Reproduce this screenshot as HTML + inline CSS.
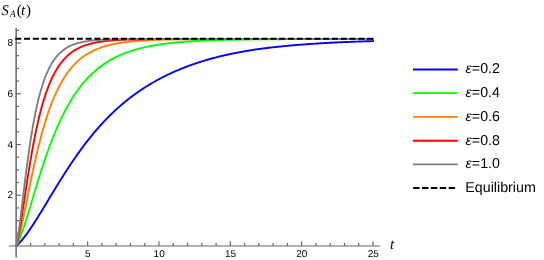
<!DOCTYPE html>
<html><head><meta charset="utf-8"><title>S_A(t)</title>
<style>
html,body{margin:0;padding:0;background:#fff;}
body{width:544px;height:260px;overflow:hidden;position:relative;font-family:"Liberation Sans",sans-serif;}
</style></head><body>
<svg width="544" height="260" viewBox="0 0 544 260" style="position:absolute;left:0;top:0;will-change:transform" text-rendering="geometricPrecision">
<rect width="544" height="260" fill="#ffffff"/>
<g stroke="#666666" stroke-width="1.2" fill="none">
<line x1="8.8" y1="246.0" x2="380.4" y2="246.0"/>
<line x1="16.15" y1="28" x2="16.15" y2="257.5" stroke-width="1.5"/>
<line x1="30.57" y1="246.0" x2="30.57" y2="243.0"/>
<line x1="44.84" y1="246.0" x2="44.84" y2="243.0"/>
<line x1="59.10" y1="246.0" x2="59.10" y2="243.0"/>
<line x1="73.37" y1="246.0" x2="73.37" y2="243.0"/>
<line x1="87.64" y1="246.0" x2="87.64" y2="241.3"/>
<line x1="101.91" y1="246.0" x2="101.91" y2="243.0"/>
<line x1="116.18" y1="246.0" x2="116.18" y2="243.0"/>
<line x1="130.44" y1="246.0" x2="130.44" y2="243.0"/>
<line x1="144.71" y1="246.0" x2="144.71" y2="243.0"/>
<line x1="158.98" y1="246.0" x2="158.98" y2="241.3"/>
<line x1="173.25" y1="246.0" x2="173.25" y2="243.0"/>
<line x1="187.52" y1="246.0" x2="187.52" y2="243.0"/>
<line x1="201.78" y1="246.0" x2="201.78" y2="243.0"/>
<line x1="216.05" y1="246.0" x2="216.05" y2="243.0"/>
<line x1="230.32" y1="246.0" x2="230.32" y2="241.3"/>
<line x1="244.59" y1="246.0" x2="244.59" y2="243.0"/>
<line x1="258.86" y1="246.0" x2="258.86" y2="243.0"/>
<line x1="273.12" y1="246.0" x2="273.12" y2="243.0"/>
<line x1="287.39" y1="246.0" x2="287.39" y2="243.0"/>
<line x1="301.66" y1="246.0" x2="301.66" y2="241.3"/>
<line x1="315.93" y1="246.0" x2="315.93" y2="243.0"/>
<line x1="330.20" y1="246.0" x2="330.20" y2="243.0"/>
<line x1="344.46" y1="246.0" x2="344.46" y2="243.0"/>
<line x1="358.73" y1="246.0" x2="358.73" y2="243.0"/>
<line x1="373.00" y1="246.0" x2="373.00" y2="241.3"/>
<line x1="16.3" y1="233.31" x2="19.1" y2="233.31"/>
<line x1="16.3" y1="220.63" x2="19.1" y2="220.63"/>
<line x1="16.3" y1="207.94" x2="19.1" y2="207.94"/>
<line x1="16.3" y1="195.26" x2="20.9" y2="195.26"/>
<line x1="16.3" y1="182.57" x2="19.1" y2="182.57"/>
<line x1="16.3" y1="169.89" x2="19.1" y2="169.89"/>
<line x1="16.3" y1="157.20" x2="19.1" y2="157.20"/>
<line x1="16.3" y1="144.52" x2="20.9" y2="144.52"/>
<line x1="16.3" y1="131.83" x2="19.1" y2="131.83"/>
<line x1="16.3" y1="119.15" x2="19.1" y2="119.15"/>
<line x1="16.3" y1="106.47" x2="19.1" y2="106.47"/>
<line x1="16.3" y1="93.78" x2="20.9" y2="93.78"/>
<line x1="16.3" y1="81.09" x2="19.1" y2="81.09"/>
<line x1="16.3" y1="68.41" x2="19.1" y2="68.41"/>
<line x1="16.3" y1="55.72" x2="19.1" y2="55.72"/>
<line x1="16.3" y1="43.04" x2="20.9" y2="43.04"/>
<line x1="16.3" y1="30.35" x2="19.1" y2="30.35"/>
</g>
<path d="M16.30 246.01 L17.20 245.17 L17.50 244.88 L18.09 244.29 L18.69 243.68 L18.99 243.37 L19.89 242.40 L19.89 242.40 L20.78 241.40 L21.09 241.05 L21.68 240.36 L22.28 239.64 L22.58 239.29 L23.47 238.18 L23.48 238.17 L24.37 237.04 L24.67 236.64 L25.26 235.87 L25.87 235.07 L26.16 234.68 L27.06 233.45 L27.07 233.44 L27.95 232.20 L28.26 231.77 L28.85 230.93 L29.46 230.06 L29.75 229.64 L30.64 228.33 L30.66 228.31 L31.54 226.99 L31.85 226.53 L32.44 225.64 L33.05 224.71 L33.33 224.28 L34.23 222.89 L34.24 222.87 L35.13 221.50 L35.44 221.00 L36.02 220.09 L36.64 219.11 L36.92 218.67 L37.82 217.23 L37.83 217.21 L38.71 215.79 L39.03 215.28 L39.61 214.34 L40.23 213.34 L40.51 212.88 L41.40 211.42 L41.42 211.39 L42.30 209.95 L42.62 209.42 L43.19 208.47 L43.82 207.45 L44.09 206.99 L44.99 205.51 L45.01 205.47 L45.88 204.03 L46.21 203.49 L46.78 202.54 L47.40 201.51 L47.68 201.05 L48.57 199.56 L48.60 199.52 L49.47 198.08 L49.80 197.53 L50.37 196.59 L50.99 195.55 L51.26 195.10 L52.16 193.62 L52.19 193.57 L53.06 192.14 L53.39 191.60 L53.95 190.66 L54.58 189.63 L54.85 189.19 L55.75 187.72 L55.78 187.67 L56.64 186.26 L56.97 185.72 L57.54 184.80 L58.17 183.77 L58.43 183.34 L59.33 181.90 L59.37 181.84 L60.23 180.46 L60.56 179.92 L61.12 179.02 L61.76 178.01 L62.02 177.59 L62.92 176.17 L62.96 176.11 L63.81 174.76 L64.15 174.23 L64.71 173.35 L65.35 172.36 L65.61 171.96 L66.50 170.57 L66.55 170.50 L67.40 169.19 L67.74 168.66 L68.30 167.81 L68.94 166.84 L69.19 166.45 L70.09 165.10 L70.13 165.03 L70.99 163.76 L71.33 163.24 L71.88 162.42 L72.53 161.47 L72.78 161.10 L73.68 159.78 L73.72 159.71 L74.57 158.48 L74.92 157.97 L75.47 157.18 L76.12 156.25 L76.36 155.90 L77.26 154.62 L77.31 154.55 L78.16 153.36 L78.51 152.87 L79.05 152.11 L79.70 151.20 L79.95 150.86 L80.85 149.63 L80.90 149.56 L81.74 148.41 L82.10 147.93 L82.64 147.20 L83.29 146.32 L83.54 146.00 L84.43 144.81 L84.49 144.74 L85.33 143.63 L85.69 143.17 L86.23 142.46 L86.88 141.62 L87.12 141.31 L88.02 140.16 L88.08 140.09 L88.92 139.03 L89.28 138.57 L89.81 137.90 L90.47 137.08 L90.71 136.79 L91.61 135.69 L91.67 135.61 L92.50 134.60 L92.86 134.16 L93.40 133.51 L94.06 132.72 L94.29 132.44 L95.19 131.38 L95.26 131.31 L96.09 130.34 L96.45 129.91 L96.98 129.30 L97.65 128.53 L97.88 128.27 L98.78 127.25 L98.85 127.18 L99.67 126.25 L100.04 125.84 L100.57 125.25 L101.24 124.51 L101.47 124.27 L102.36 123.29 L102.43 123.21 L103.26 122.32 L103.63 121.93 L104.16 121.37 L104.83 120.66 L105.05 120.43 L105.95 119.49 L106.02 119.41 L106.85 118.57 L107.22 118.18 L107.74 117.65 L108.42 116.97 L108.64 116.75 L109.53 115.85 L109.61 115.77 L110.43 114.97 L110.81 114.60 L111.33 114.09 L112.01 113.44 L112.22 113.23 L113.12 112.37 L113.20 112.29 L114.02 111.52 L114.40 111.16 L114.91 110.68 L115.59 110.05 L115.81 109.86 L116.71 109.04 L116.79 108.96 L117.60 108.23 L117.99 107.88 L118.50 107.42 L119.18 106.82 L119.40 106.63 L120.29 105.85 L120.38 105.77 L121.19 105.07 L121.58 104.74 L122.09 104.31 L122.77 103.73 L122.98 103.55 L123.88 102.80 L123.97 102.72 L124.78 102.06 L125.16 101.74 L125.67 101.33 L126.36 100.77 L126.57 100.60 L127.46 99.89 L127.56 99.81 L128.36 99.18 L128.75 98.87 L129.26 98.48 L129.95 97.94 L130.15 97.78 L131.05 97.10 L131.15 97.03 L131.95 96.42 L132.34 96.13 L132.84 95.75 L133.54 95.24 L133.74 95.09 L134.64 94.44 L134.74 94.36 L135.53 93.79 L135.93 93.50 L136.43 93.15 L137.13 92.65 L137.33 92.52 L138.22 91.89 L138.32 91.82 L139.12 91.27 L139.52 91.00 L140.02 90.66 L140.72 90.18 L140.91 90.05 L141.81 89.46 L141.91 89.39 L142.70 88.86 L143.11 88.60 L143.60 88.28 L144.31 87.82 L144.50 87.70 L145.39 87.13 L145.50 87.06 L146.29 86.56 L146.70 86.31 L147.19 86.00 L147.89 85.57 L148.08 85.45 L148.98 84.90 L149.09 84.84 L149.88 84.36 L150.29 84.12 L150.77 83.83 L151.48 83.41 L151.67 83.30 L152.57 82.78 L152.68 82.71 L153.46 82.26 L153.88 82.02 L154.36 81.75 L155.07 81.34 L155.26 81.24 L156.15 80.74 L156.27 80.68 L157.05 80.25 L157.47 80.02 L157.95 79.76 L158.66 79.37 L158.84 79.27 L159.74 78.79 L159.86 78.73 L160.63 78.32 L161.05 78.10 L161.53 77.85 L162.25 77.48 L162.43 77.39 L163.32 76.93 L163.45 76.87 L164.22 76.48 L164.64 76.27 L165.12 76.03 L165.84 75.67 L166.01 75.59 L166.91 75.15 L167.04 75.09 L167.81 74.72 L168.23 74.51 L168.70 74.29 L169.43 73.95 L169.60 73.86 L170.50 73.45 L170.62 73.39 L171.39 73.03 L171.82 72.84 L172.29 72.62 L173.02 72.29 L173.19 72.22 L174.08 71.82 L174.21 71.76 L174.98 71.42 L175.41 71.23 L175.87 71.03 L176.61 70.71 L176.77 70.64 L177.67 70.26 L177.80 70.20 L178.56 69.88 L179.00 69.70 L179.46 69.50 L180.20 69.20 L180.36 69.13 L181.25 68.77 L181.39 68.71 L182.15 68.40 L182.59 68.23 L183.05 68.05 L183.78 67.76 L183.94 67.69 L184.84 67.34 L184.98 67.29 L185.74 67.00 L186.18 66.83 L186.63 66.65 L187.37 66.37 L187.53 66.32 L188.43 65.98 L188.57 65.93 L189.32 65.65 L189.77 65.49 L190.22 65.32 L190.96 65.05 L191.12 65.00 L192.01 64.68 L192.16 64.63 L192.91 64.36 L193.35 64.21 L193.80 64.05 L194.55 63.79 L194.70 63.74 L195.60 63.44 L195.75 63.39 L196.49 63.14 L196.94 62.99 L197.39 62.84 L198.14 62.59 L198.29 62.54 L199.18 62.25 L199.34 62.20 L200.08 61.97 L200.53 61.82 L200.98 61.68 L201.73 61.44 L201.87 61.40 L202.77 61.12 L202.93 61.07 L203.67 60.85 L204.12 60.71 L204.56 60.58 L205.32 60.35 L205.46 60.31 L206.36 60.04 L206.51 60.00 L207.25 59.78 L207.71 59.65 L208.15 59.52 L208.91 59.31 L209.04 59.27 L209.94 59.01 L210.10 58.97 L210.84 58.77 L211.30 58.64 L211.73 58.52 L212.50 58.31 L212.63 58.28 L213.53 58.03 L213.69 57.99 L214.42 57.80 L214.89 57.68 L215.32 57.56 L216.08 57.36 L216.22 57.33 L217.11 57.10 L217.28 57.06 L218.01 56.88 L218.48 56.76 L218.91 56.65 L219.67 56.46 L219.80 56.43 L220.70 56.21 L220.87 56.17 L221.60 56.00 L222.07 55.89 L222.49 55.79 L223.26 55.60 L223.39 55.58 L224.29 55.37 L224.46 55.33 L225.18 55.16 L225.66 55.06 L226.08 54.96 L226.85 54.79 L226.97 54.76 L227.87 54.56 L228.05 54.53 L228.77 54.37 L229.24 54.27 L229.66 54.18 L230.44 54.01 L230.56 53.99 L231.46 53.80 L231.64 53.76 L232.35 53.61 L232.83 53.52 L233.25 53.43 L234.03 53.27 L234.15 53.25 L235.04 53.07 L235.23 53.04 L235.94 52.90 L236.42 52.80 L236.84 52.72 L237.62 52.57 L237.73 52.55 L238.63 52.38 L238.81 52.35 L239.53 52.22 L240.01 52.13 L240.42 52.05 L241.21 51.91 L241.32 51.89 L242.22 51.73 L242.40 51.69 L243.11 51.57 L243.60 51.48 L244.01 51.41 L244.80 51.27 L244.90 51.26 L245.80 51.10 L245.99 51.07 L246.70 50.95 L247.19 50.87 L247.59 50.80 L248.39 50.67 L248.49 50.66 L249.39 50.51 L249.58 50.48 L250.28 50.37 L250.78 50.29 L251.18 50.23 L251.97 50.10 L252.08 50.09 L252.97 49.95 L253.17 49.92 L253.87 49.81 L254.37 49.74 L254.77 49.68 L255.56 49.56 L255.66 49.55 L256.56 49.41 L256.76 49.39 L257.46 49.29 L257.96 49.21 L258.35 49.16 L259.15 49.04 L259.25 49.03 L260.14 48.91 L260.35 48.88 L261.04 48.78 L261.54 48.72 L261.94 48.66 L262.74 48.56 L262.83 48.54 L263.73 48.42 L263.94 48.40 L264.63 48.31 L265.13 48.24 L265.52 48.19 L266.33 48.09 L266.42 48.08 L267.32 47.97 L267.53 47.94 L268.21 47.86 L268.72 47.79 L269.11 47.75 L269.92 47.65 L270.01 47.64 L270.90 47.53 L271.12 47.51 L271.80 47.43 L272.31 47.37 L272.70 47.32 L273.51 47.23 L273.59 47.22 L274.49 47.12 L274.70 47.09 L275.39 47.02 L275.90 46.96 L276.28 46.92 L277.10 46.83 L277.18 46.82 L278.07 46.72 L278.29 46.70 L278.97 46.63 L279.49 46.58 L279.87 46.54 L280.69 46.45 L280.76 46.44 L281.66 46.35 L281.88 46.33 L282.56 46.26 L283.08 46.21 L283.45 46.17 L284.27 46.09 L284.35 46.08 L285.25 46.00 L285.47 45.97 L286.14 45.91 L286.67 45.86 L287.04 45.83 L287.86 45.75 L287.94 45.74 L288.83 45.66 L289.06 45.64 L289.73 45.58 L290.26 45.53 L290.63 45.50 L291.45 45.42 L291.52 45.42 L292.42 45.34 L292.65 45.32 L293.31 45.26 L293.85 45.21 L294.21 45.18 L295.04 45.11 L295.11 45.11 L296.00 45.03 L296.24 45.01 L296.90 44.96 L297.43 44.91 L297.80 44.88 L298.63 44.82 L298.69 44.81 L299.59 44.74 L299.83 44.72 L300.49 44.67 L301.02 44.63 L301.38 44.60 L302.22 44.54 L302.28 44.53 L303.18 44.46 L303.42 44.45 L304.07 44.40 L304.61 44.36 L304.97 44.33 L305.81 44.27 L305.87 44.27 L306.76 44.20 L307.01 44.18 L307.66 44.14 L308.20 44.10 L308.56 44.07 L309.40 44.02 L309.45 44.01 L310.35 43.95 L310.59 43.93 L311.24 43.89 L311.79 43.85 L312.14 43.83 L312.99 43.77 L313.04 43.77 L313.93 43.71 L314.18 43.70 L314.83 43.66 L315.38 43.62 L315.73 43.60 L316.58 43.54 L316.62 43.54 L317.52 43.49 L317.77 43.47 L318.42 43.43 L318.97 43.40 L319.31 43.38 L320.16 43.33 L320.21 43.32 L321.11 43.27 L321.36 43.26 L322.00 43.22 L322.56 43.19 L322.90 43.17 L323.75 43.12 L323.80 43.12 L324.69 43.07 L324.95 43.05 L325.59 43.02 L326.15 42.98 L326.48 42.97 L327.34 42.92 L327.38 42.92 L328.28 42.87 L328.54 42.86 L329.17 42.82 L329.74 42.79 L330.07 42.78 L330.93 42.73 L330.97 42.73 L331.86 42.68 L332.13 42.67 L332.76 42.64 L333.32 42.61 L333.66 42.59 L334.52 42.55 L334.55 42.55 L335.45 42.51 L335.72 42.49 L336.35 42.46 L336.91 42.44 L337.24 42.42 L338.11 42.38 L338.14 42.38 L339.04 42.34 L339.31 42.33 L339.93 42.30 L340.50 42.27 L340.83 42.26 L341.70 42.22 L341.73 42.22 L342.62 42.18 L342.89 42.16 L343.52 42.14 L344.09 42.11 L344.41 42.10 L345.29 42.06 L345.31 42.06 L346.21 42.02 L346.48 42.01 L347.10 41.99 L347.68 41.96 L348.00 41.95 L348.88 41.91 L348.90 41.91 L349.79 41.88 L350.07 41.87 L350.69 41.84 L351.27 41.82 L351.59 41.81 L352.47 41.77 L352.48 41.77 L353.38 41.74 L353.66 41.73 L354.28 41.71 L354.86 41.68 L355.17 41.67 L356.05 41.64 L356.07 41.64 L356.97 41.61 L357.25 41.60 L357.86 41.58 L358.45 41.55 L358.76 41.54 L359.64 41.51 L359.65 41.51 L360.55 41.48 L360.84 41.47 L361.45 41.45 L362.04 41.43 L362.34 41.42 L363.23 41.39 L363.24 41.39 L364.14 41.36 L364.43 41.35 L365.03 41.33 L365.62 41.31 L365.93 41.30 L366.82 41.28 L366.83 41.28 L367.72 41.25 L368.02 41.24 L368.62 41.22 L369.21 41.20 L369.52 41.19 L370.41 41.17 L370.41 41.17 L371.31 41.14 L371.61 41.13 L372.21 41.11 L372.80 41.10 L373.10 41.09 L374.00 41.06" fill="none" stroke="#0000ff" stroke-width="1.9" stroke-linejoin="round"/>
<path d="M16.30 246.00 L17.02 244.64 L17.20 244.28 L17.73 243.17 L18.09 242.39 L18.45 241.60 L18.99 240.34 L19.16 239.93 L19.88 238.18 L19.89 238.16 L20.59 236.34 L20.78 235.85 L21.31 234.44 L21.68 233.43 L22.03 232.46 L22.58 230.91 L22.74 230.43 L23.46 228.34 L23.47 228.30 L24.17 226.20 L24.37 225.61 L24.89 224.02 L25.26 222.86 L25.61 221.80 L26.16 220.05 L26.32 219.54 L27.04 217.26 L27.06 217.19 L27.75 214.95 L27.95 214.29 L28.47 212.62 L28.85 211.37 L29.18 210.27 L29.75 208.42 L29.90 207.91 L30.62 205.54 L30.64 205.45 L31.33 203.17 L31.54 202.47 L32.05 200.79 L32.44 199.49 L32.76 198.40 L33.33 196.51 L33.48 196.02 L34.19 193.65 L34.23 193.53 L34.91 191.28 L35.13 190.57 L35.63 188.92 L36.02 187.62 L36.34 186.57 L36.92 184.68 L37.06 184.23 L37.77 181.91 L37.82 181.77 L38.49 179.60 L38.71 178.88 L39.21 177.31 L39.61 176.02 L39.92 175.04 L40.51 173.19 L40.64 172.78 L41.35 170.55 L41.40 170.40 L42.07 168.34 L42.30 167.63 L42.78 166.15 L43.19 164.90 L43.50 163.98 L44.09 162.21 L44.22 161.84 L44.93 159.72 L44.99 159.55 L45.65 157.63 L45.88 156.94 L46.36 155.56 L46.78 154.36 L47.08 153.52 L47.68 151.83 L47.79 151.50 L48.51 149.51 L48.57 149.34 L49.23 147.55 L49.47 146.89 L49.94 145.61 L50.37 144.48 L50.66 143.71 L51.26 142.11 L51.37 141.82 L52.09 139.97 L52.16 139.79 L52.81 138.14 L53.06 137.51 L53.52 136.34 L53.95 135.27 L54.24 134.57 L54.85 133.08 L54.95 132.83 L55.67 131.11 L55.75 130.93 L56.38 129.42 L56.64 128.82 L57.10 127.75 L57.54 126.75 L57.82 126.12 L58.43 124.72 L58.53 124.51 L59.25 122.92 L59.33 122.74 L59.96 121.36 L60.23 120.79 L60.68 119.83 L61.12 118.89 L61.39 118.33 L62.02 117.03 L62.11 116.84 L62.83 115.39 L62.92 115.20 L63.54 113.96 L63.81 113.42 L64.26 112.55 L64.71 111.67 L64.97 111.17 L65.61 109.97 L65.69 109.81 L66.41 108.48 L66.50 108.29 L67.12 107.17 L67.40 106.66 L67.84 105.88 L68.30 105.06 L68.55 104.61 L69.19 103.50 L69.27 103.37 L69.98 102.15 L70.09 101.97 L70.70 100.95 L70.99 100.48 L71.42 99.78 L71.88 99.02 L72.13 98.62 L72.78 97.59 L72.85 97.49 L73.56 96.37 L73.68 96.20 L74.28 95.28 L74.57 94.84 L74.99 94.20 L75.47 93.50 L75.71 93.15 L76.36 92.20 L76.43 92.12 L77.14 91.10 L77.26 90.93 L77.86 90.10 L78.16 89.69 L78.57 89.13 L79.05 88.48 L79.29 88.17 L79.95 87.30 L80.00 87.22 L80.72 86.30 L80.85 86.14 L81.44 85.39 L81.74 85.01 L82.15 84.50 L82.64 83.91 L82.87 83.63 L83.54 82.83 L83.58 82.77 L84.30 81.93 L84.43 81.78 L85.02 81.10 L85.33 80.75 L85.73 80.30 L86.23 79.74 L86.45 79.50 L87.12 78.76 L87.16 78.72 L87.88 77.96 L88.02 77.81 L88.59 77.21 L88.92 76.87 L89.31 76.47 L89.81 75.96 L90.03 75.75 L90.71 75.07 L90.74 75.04 L91.46 74.34 L91.61 74.20 L92.17 73.66 L92.50 73.35 L92.89 72.99 L93.40 72.53 L93.60 72.34 L94.29 71.72 L94.32 71.69 L95.04 71.06 L95.19 70.93 L95.75 70.44 L96.09 70.16 L96.47 69.84 L96.98 69.41 L97.18 69.24 L97.88 68.67 L97.90 68.66 L98.62 68.08 L98.78 67.96 L99.33 67.52 L99.67 67.26 L100.05 66.97 L100.57 66.57 L100.76 66.43 L101.47 65.91 L101.48 65.90 L102.19 65.38 L102.36 65.26 L102.91 64.87 L103.26 64.62 L103.63 64.37 L104.16 64.00 L104.34 63.88 L105.05 63.40 L105.06 63.40 L105.77 62.92 L105.95 62.81 L106.49 62.46 L106.85 62.23 L107.20 62.01 L107.74 61.67 L107.92 61.56 L108.64 61.12 L108.64 61.12 L109.35 60.70 L109.53 60.59 L110.07 60.28 L110.43 60.07 L110.78 59.86 L111.33 59.56 L111.50 59.46 L112.22 59.06 L112.22 59.06 L112.93 58.68 L113.12 58.57 L113.65 58.29 L114.02 58.10 L114.36 57.92 L114.91 57.64 L115.08 57.55 L115.79 57.19 L115.81 57.19 L116.51 56.84 L116.71 56.75 L117.23 56.50 L117.60 56.32 L117.94 56.16 L118.50 55.90 L118.66 55.82 L119.37 55.50 L119.40 55.49 L120.09 55.18 L120.29 55.09 L120.80 54.86 L121.19 54.70 L121.52 54.56 L122.09 54.32 L122.24 54.26 L122.95 53.96 L122.98 53.95 L123.67 53.67 L123.88 53.59 L124.38 53.38 L124.78 53.23 L125.10 53.11 L125.67 52.89 L125.82 52.83 L126.53 52.56 L126.57 52.55 L127.25 52.30 L127.46 52.22 L127.96 52.04 L128.36 51.90 L128.68 51.79 L129.26 51.59 L129.39 51.54 L130.11 51.30 L130.15 51.28 L130.83 51.06 L131.05 50.99 L131.54 50.83 L131.95 50.70 L132.26 50.60 L132.84 50.41 L132.97 50.37 L133.69 50.15 L133.74 50.14 L134.40 49.93 L134.64 49.87 L135.12 49.72 L135.53 49.60 L135.84 49.51 L136.43 49.34 L136.55 49.31 L137.27 49.11 L137.33 49.09 L137.98 48.91 L138.22 48.85 L138.70 48.72 L139.12 48.61 L139.42 48.53 L140.02 48.38 L140.13 48.35 L140.85 48.17 L140.91 48.15 L141.56 47.99 L141.81 47.93 L142.28 47.81 L142.70 47.71 L142.99 47.64 L143.60 47.50 L143.71 47.47 L144.43 47.31 L144.50 47.29 L145.14 47.15 L145.39 47.09 L145.86 46.99 L146.29 46.90 L146.57 46.83 L147.19 46.70 L147.29 46.68 L148.00 46.53 L148.08 46.52 L148.72 46.39 L148.98 46.33 L149.44 46.24 L149.88 46.16 L150.15 46.10 L150.77 45.98 L150.87 45.96 L151.58 45.83 L151.67 45.81 L152.30 45.70 L152.57 45.65 L153.02 45.57 L153.46 45.49 L153.73 45.44 L154.36 45.33 L154.45 45.31 L155.16 45.19 L155.26 45.18 L155.88 45.07 L156.15 45.03 L156.59 44.95 L157.05 44.88 L157.31 44.84 L157.95 44.74 L158.03 44.72 L158.74 44.61 L158.84 44.60 L159.46 44.50 L159.74 44.46 L160.17 44.40 L160.63 44.33 L160.89 44.29 L161.53 44.20 L161.60 44.19 L162.32 44.09 L162.43 44.07 L163.04 43.99 L163.32 43.95 L163.75 43.89 L164.22 43.83 L164.47 43.80 L165.12 43.71 L165.18 43.70 L165.90 43.61 L166.01 43.60 L166.62 43.52 L166.91 43.49 L167.33 43.43 L167.81 43.38 L168.05 43.35 L168.70 43.27 L168.76 43.26 L169.48 43.18 L169.60 43.17 L170.19 43.10 L170.50 43.06 L170.91 43.02 L171.39 42.97 L171.63 42.94 L172.29 42.87 L172.34 42.86 L173.06 42.79 L173.19 42.77 L173.77 42.71 L174.08 42.68 L174.49 42.64 L174.98 42.59 L175.20 42.57 L175.87 42.51 L175.92 42.50 L176.64 42.43 L176.77 42.42 L177.35 42.37 L177.67 42.34 L178.07 42.30 L178.56 42.26 L178.78 42.24 L179.46 42.18 L179.50 42.17 L180.21 42.11 L180.36 42.10 L180.93 42.05 L181.25 42.02 L181.65 41.99 L182.15 41.95 L182.36 41.93 L183.05 41.88 L183.08 41.88 L183.79 41.82 L183.94 41.81 L184.51 41.76 L184.84 41.74 L185.23 41.71 L185.74 41.67 L185.94 41.66 L186.63 41.61 L186.66 41.61 L187.37 41.55 L187.53 41.54 L188.09 41.51 L188.43 41.48 L188.80 41.46 L189.32 41.42 L189.52 41.41 L190.22 41.36 L190.24 41.36 L190.95 41.32 L191.12 41.30 L191.67 41.27 L192.01 41.25 L192.38 41.23 L192.91 41.19 L193.10 41.18 L193.80 41.14 L193.81 41.14 L194.53 41.10 L194.70 41.09 L195.25 41.06 L195.60 41.04 L195.96 41.02 L196.49 40.99 L196.68 40.98 L197.39 40.94 L197.39 40.94 L198.11 40.90 L198.29 40.89 L198.83 40.86 L199.18 40.84 L199.54 40.83 L200.08 40.80 L200.26 40.79 L200.97 40.76 L200.98 40.76 L201.69 40.72 L201.87 40.71 L202.40 40.69 L202.77 40.67 L203.12 40.65 L203.67 40.63 L203.84 40.62 L204.55 40.59 L204.56 40.59 L205.27 40.56 L205.46 40.55 L205.98 40.53 L206.36 40.51 L206.70 40.50 L207.25 40.48 L207.41 40.47 L208.13 40.44 L208.15 40.44 L208.85 40.41 L209.04 40.40 L209.56 40.38 L209.94 40.37 L210.28 40.36 L210.84 40.34 L210.99 40.33 L211.71 40.30 L211.73 40.30 L212.43 40.28 L212.63 40.27 L213.14 40.25 L213.53 40.24 L213.86 40.23 L214.42 40.21 L214.57 40.20 L215.29 40.18 L215.32 40.18 L216.00 40.16 L216.22 40.15 L216.72 40.13 L217.11 40.12 L217.44 40.11 L218.01 40.09 L218.15 40.09 L218.87 40.07 L218.91 40.07 L219.58 40.05 L219.80 40.04 L220.30 40.03 L220.70 40.02 L221.01 40.01 L221.60 39.99 L221.73 39.99 L222.45 39.97 L222.49 39.97 L223.16 39.95 L223.39 39.94 L223.88 39.93 L224.29 39.92 L224.59 39.91 L225.18 39.90 L225.31 39.89 L226.03 39.88 L226.08 39.87 L226.74 39.86 L226.97 39.85 L227.46 39.84 L227.87 39.83 L228.17 39.82 L228.77 39.81 L228.89 39.81 L229.60 39.79 L229.66 39.79 L230.32 39.78 L230.56 39.77 L231.46 39.75 L232.35 39.73 L233.25 39.72 L234.15 39.70 L235.04 39.68 L235.94 39.66 L236.84 39.65 L237.73 39.63 L238.63 39.61 L239.53 39.60 L240.42 39.58 L241.32 39.57 L242.22 39.56 L243.11 39.54 L244.01 39.53 L244.90 39.51 L245.80 39.50 L246.70 39.49 L247.59 39.48 L248.49 39.46 L249.39 39.45 L250.28 39.44 L251.18 39.43 L252.08 39.42 L252.97 39.41 L253.87 39.40 L254.77 39.39 L255.66 39.38 L256.56 39.37 L257.46 39.36 L258.35 39.35 L259.25 39.34 L260.14 39.33 L261.04 39.32 L261.94 39.32 L262.83 39.31 L263.73 39.30 L264.63 39.29 L265.52 39.28 L266.42 39.28 L267.32 39.27 L268.21 39.26 L269.11 39.26 L270.01 39.25 L270.90 39.24 L271.80 39.24 L272.70 39.23 L273.59 39.22 L274.49 39.22 L275.39 39.21 L276.28 39.21 L277.18 39.20 L278.07 39.20 L278.97 39.19 L279.87 39.19 L280.76 39.18 L281.66 39.18 L282.56 39.17 L283.45 39.17 L284.35 39.16 L285.25 39.16 L286.14 39.15 L287.04 39.15 L287.94 39.15 L288.83 39.14 L289.73 39.14 L290.63 39.13 L291.52 39.13 L292.42 39.13 L293.31 39.12 L294.21 39.12 L295.11 39.12 L296.00 39.11 L296.90 39.11 L297.80 39.11 L298.69 39.10 L299.59 39.10 L300.49 39.10 L301.38 39.09 L302.28 39.09 L303.18 39.09 L304.07 39.09 L304.97 39.08 L305.87 39.08 L306.76 39.08 L307.66 39.08 L308.56 39.07 L309.45 39.07 L310.35 39.07 L311.24 39.07 L312.14 39.07 L313.04 39.06 L313.93 39.06 L314.83 39.06 L315.73 39.06 L316.62 39.06 L317.52 39.05 L318.42 39.05 L319.31 39.05 L320.21 39.05 L321.11 39.05 L322.00 39.05 L322.90 39.04 L323.80 39.04 L324.69 39.04 L325.59 39.04 L326.48 39.04 L327.38 39.04 L328.28 39.04 L329.17 39.03 L330.07 39.03 L330.97 39.03 L331.86 39.03 L332.76 39.03 L333.66 39.03 L334.55 39.03 L335.45 39.03 L336.35 39.02 L337.24 39.02 L338.14 39.02 L339.04 39.02 L339.93 39.02 L340.83 39.02 L341.73 39.02 L342.62 39.02 L343.52 39.02 L344.41 39.02 L345.31 39.02 L346.21 39.01 L347.10 39.01 L348.00 39.01 L348.90 39.01 L349.79 39.01 L350.69 39.01 L351.59 39.01 L352.48 39.01 L353.38 39.01 L354.28 39.01 L355.17 39.01 L356.07 39.01 L356.97 39.01 L357.86 39.01 L358.76 39.00 L359.65 39.00 L360.55 39.00 L361.45 39.00 L362.34 39.00 L363.24 39.00 L364.14 39.00 L365.03 39.00 L365.93 39.00 L366.83 39.00 L367.72 39.00 L368.62 39.00 L369.52 39.00 L370.41 39.00 L371.31 39.00 L372.21 39.00 L373.10 39.00 L374.00 39.00" fill="none" stroke="#00ff00" stroke-width="1.9" stroke-linejoin="round"/>
<path d="M16.30 246.00 L16.78 244.64 L17.20 243.35 L17.25 243.17 L17.73 241.60 L18.09 240.34 L18.21 239.93 L18.69 238.18 L18.99 237.02 L19.16 236.34 L19.64 234.44 L19.89 233.43 L20.12 232.46 L20.59 230.43 L20.78 229.61 L21.07 228.34 L21.55 226.20 L21.68 225.61 L22.03 224.02 L22.50 221.80 L22.58 221.46 L22.98 219.54 L23.46 217.26 L23.47 217.19 L23.94 214.95 L24.37 212.83 L24.41 212.62 L24.89 210.27 L25.26 208.42 L25.37 207.91 L25.84 205.54 L26.16 203.96 L26.32 203.17 L26.80 200.79 L27.06 199.49 L27.28 198.40 L27.75 196.02 L27.95 195.02 L28.23 193.65 L28.71 191.28 L28.85 190.57 L29.18 188.92 L29.66 186.57 L29.75 186.15 L30.14 184.23 L30.62 181.91 L30.64 181.77 L31.09 179.60 L31.54 177.45 L31.57 177.31 L32.05 175.04 L32.44 173.19 L32.52 172.78 L33.00 170.55 L33.33 169.01 L33.48 168.34 L33.96 166.15 L34.23 164.90 L34.43 163.98 L34.91 161.84 L35.13 160.88 L35.39 159.72 L35.86 157.63 L36.02 156.94 L36.34 155.56 L36.82 153.52 L36.92 153.09 L37.30 151.50 L37.77 149.51 L37.82 149.34 L38.25 147.55 L38.71 145.68 L38.73 145.61 L39.21 143.71 L39.61 142.11 L39.68 141.82 L40.16 139.97 L40.51 138.64 L40.64 138.14 L41.11 136.34 L41.40 135.27 L41.59 134.57 L42.07 132.83 L42.30 132.00 L42.55 131.11 L43.02 129.42 L43.19 128.82 L43.50 127.75 L43.98 126.12 L44.09 125.73 L44.45 124.51 L44.93 122.92 L44.99 122.74 L45.41 121.36 L45.88 119.84 L45.89 119.83 L46.36 118.33 L46.78 117.03 L46.84 116.84 L47.32 115.39 L47.68 114.31 L47.79 113.96 L48.27 112.55 L48.57 111.67 L48.75 111.17 L49.23 109.81 L49.47 109.13 L49.70 108.48 L50.18 107.17 L50.37 106.66 L50.66 105.88 L51.13 104.61 L51.26 104.28 L51.61 103.37 L52.09 102.15 L52.16 101.97 L52.57 100.95 L53.04 99.78 L53.06 99.75 L53.52 98.62 L53.95 97.59 L54.00 97.49 L54.48 96.37 L54.85 95.51 L54.95 95.28 L55.43 94.20 L55.75 93.50 L55.91 93.15 L56.38 92.12 L56.64 91.57 L56.86 91.10 L57.34 90.10 L57.54 89.69 L57.82 89.13 L58.29 88.17 L58.43 87.88 L58.77 87.22 L59.25 86.30 L59.33 86.14 L59.72 85.39 L60.20 84.50 L60.23 84.45 L60.68 83.63 L61.12 82.83 L61.16 82.77 L61.63 81.93 L62.02 81.26 L62.11 81.10 L62.59 80.30 L62.92 79.74 L63.06 79.50 L63.54 78.72 L63.81 78.28 L64.02 77.96 L64.50 77.21 L64.71 76.87 L64.97 76.47 L65.45 75.75 L65.61 75.51 L65.93 75.04 L66.41 74.34 L66.50 74.20 L66.88 73.66 L67.36 72.99 L67.40 72.94 L67.84 72.34 L68.30 71.72 L68.31 71.69 L68.79 71.06 L69.19 70.54 L69.27 70.44 L69.75 69.84 L70.09 69.41 L70.22 69.24 L70.70 68.66 L70.99 68.31 L71.18 68.08 L71.65 67.52 L71.88 67.26 L72.13 66.97 L72.61 66.43 L72.78 66.24 L73.09 65.90 L73.56 65.38 L73.68 65.26 L74.04 64.87 L74.52 64.37 L74.57 64.31 L74.99 63.88 L75.47 63.40 L75.47 63.40 L75.95 62.92 L76.36 62.52 L76.43 62.46 L76.90 62.01 L77.26 61.67 L77.38 61.56 L77.86 61.12 L78.16 60.85 L78.33 60.70 L78.81 60.28 L79.05 60.07 L79.29 59.86 L79.77 59.46 L79.95 59.31 L80.24 59.06 L80.72 58.68 L80.85 58.57 L81.20 58.29 L81.68 57.92 L81.74 57.87 L82.15 57.55 L82.63 57.19 L82.64 57.19 L83.11 56.84 L83.54 56.53 L83.58 56.50 L84.06 56.16 L84.43 55.90 L84.54 55.82 L85.02 55.50 L85.33 55.29 L85.49 55.18 L85.97 54.86 L86.23 54.70 L86.45 54.56 L86.92 54.26 L87.12 54.13 L87.40 53.96 L87.88 53.67 L88.02 53.59 L88.36 53.38 L88.83 53.11 L88.92 53.06 L89.31 52.83 L89.79 52.56 L89.81 52.55 L90.26 52.30 L90.71 52.06 L90.74 52.04 L91.22 51.79 L91.61 51.59 L91.70 51.54 L92.17 51.30 L92.50 51.13 L92.65 51.06 L93.13 50.83 L93.40 50.70 L93.60 50.60 L94.08 50.37 L94.29 50.27 L94.56 50.15 L95.04 49.93 L95.19 49.87 L95.51 49.72 L95.99 49.51 L96.09 49.47 L96.47 49.31 L96.95 49.11 L96.98 49.09 L97.42 48.91 L97.88 48.73 L97.90 48.72 L98.38 48.53 L98.78 48.38 L98.85 48.35 L99.33 48.17 L99.67 48.04 L99.81 47.99 L100.29 47.81 L100.57 47.71 L100.76 47.64 L101.24 47.47 L101.47 47.40 L101.72 47.31 L102.19 47.15 L102.36 47.09 L102.67 46.99 L103.15 46.83 L103.26 46.80 L103.63 46.68 L104.10 46.53 L104.16 46.52 L104.58 46.39 L105.05 46.25 L105.06 46.24 L105.53 46.10 L105.95 45.98 L106.01 45.96 L106.49 45.83 L106.85 45.73 L106.97 45.70 L107.44 45.57 L107.74 45.49 L107.92 45.44 L108.40 45.31 L108.64 45.25 L108.87 45.19 L109.35 45.07 L109.53 45.03 L109.83 44.95 L110.31 44.84 L110.43 44.81 L110.78 44.72 L111.26 44.61 L111.33 44.60 L111.74 44.50 L112.22 44.40 L112.22 44.39 L112.69 44.29 L113.12 44.20 L113.17 44.19 L113.65 44.09 L114.02 44.01 L114.12 43.99 L114.60 43.89 L114.91 43.83 L115.08 43.80 L115.56 43.70 L115.81 43.65 L116.03 43.61 L116.51 43.52 L116.71 43.49 L116.99 43.43 L117.46 43.35 L117.60 43.32 L117.94 43.26 L118.42 43.18 L118.50 43.17 L118.90 43.10 L119.37 43.02 L119.40 43.01 L119.85 42.94 L120.29 42.87 L120.33 42.86 L120.80 42.79 L121.19 42.73 L121.28 42.71 L121.76 42.64 L122.09 42.59 L122.24 42.57 L122.71 42.50 L122.98 42.46 L123.19 42.43 L123.67 42.37 L123.88 42.34 L124.15 42.30 L124.62 42.24 L124.78 42.22 L125.10 42.17 L125.58 42.11 L125.67 42.10 L126.05 42.05 L126.53 41.99 L126.57 41.99 L127.01 41.93 L127.46 41.88 L127.49 41.88 L127.96 41.82 L128.36 41.77 L128.44 41.76 L128.92 41.71 L129.26 41.67 L129.39 41.66 L129.87 41.61 L130.15 41.58 L130.35 41.55 L130.83 41.51 L131.05 41.48 L131.30 41.46 L131.78 41.41 L131.95 41.39 L132.26 41.36 L132.73 41.32 L132.84 41.30 L133.21 41.27 L133.69 41.23 L133.74 41.22 L134.17 41.18 L134.64 41.14 L134.64 41.14 L135.12 41.10 L135.53 41.06 L135.60 41.06 L136.07 41.02 L136.43 40.99 L136.55 40.98 L137.03 40.94 L137.33 40.91 L137.51 40.90 L137.98 40.86 L138.22 40.84 L138.46 40.83 L138.94 40.79 L139.12 40.78 L139.42 40.76 L139.89 40.72 L140.02 40.71 L140.37 40.69 L140.85 40.65 L140.91 40.65 L141.32 40.62 L141.80 40.59 L141.81 40.59 L142.28 40.56 L142.70 40.53 L142.76 40.53 L143.23 40.50 L143.60 40.48 L143.71 40.47 L144.19 40.44 L144.50 40.42 L144.66 40.41 L145.14 40.38 L145.39 40.37 L145.62 40.36 L146.10 40.33 L146.29 40.32 L146.57 40.30 L147.05 40.28 L147.19 40.27 L147.53 40.25 L148.00 40.23 L148.08 40.22 L148.48 40.20 L148.96 40.18 L148.98 40.18 L149.44 40.16 L149.88 40.14 L149.91 40.13 L150.39 40.11 L150.77 40.09 L150.87 40.09 L151.34 40.07 L151.67 40.05 L151.82 40.05 L152.30 40.03 L152.57 40.02 L152.78 40.01 L153.25 39.99 L153.46 39.98 L153.73 39.97 L154.21 39.95 L154.36 39.94 L154.69 39.93 L155.16 39.91 L155.26 39.91 L155.64 39.89 L156.12 39.88 L156.15 39.87 L156.59 39.86 L157.05 39.84 L157.07 39.84 L157.55 39.82 L157.95 39.81 L158.03 39.81 L158.50 39.79 L158.84 39.78 L158.98 39.78 L159.74 39.75 L160.63 39.72 L161.53 39.70 L162.43 39.67 L163.32 39.65 L164.22 39.62 L165.12 39.60 L166.01 39.58 L166.91 39.56 L167.81 39.53 L168.70 39.51 L169.60 39.50 L170.50 39.48 L171.39 39.46 L172.29 39.44 L173.19 39.43 L174.08 39.41 L174.98 39.39 L175.87 39.38 L176.77 39.36 L177.67 39.35 L178.56 39.34 L179.46 39.32 L180.36 39.31 L181.25 39.30 L182.15 39.29 L183.05 39.28 L183.94 39.27 L184.84 39.26 L185.74 39.25 L186.63 39.24 L187.53 39.23 L188.43 39.22 L189.32 39.21 L190.22 39.20 L191.12 39.19 L192.01 39.19 L192.91 39.18 L193.80 39.17 L194.70 39.16 L195.60 39.16 L196.49 39.15 L197.39 39.15 L198.29 39.14 L199.18 39.13 L200.08 39.13 L200.98 39.12 L201.87 39.12 L202.77 39.11 L203.67 39.11 L204.56 39.10 L205.46 39.10 L206.36 39.09 L207.25 39.09 L208.15 39.09 L209.04 39.08 L209.94 39.08 L210.84 39.08 L211.73 39.07 L212.63 39.07 L213.53 39.07 L214.42 39.06 L215.32 39.06 L216.22 39.06 L217.11 39.05 L218.01 39.05 L218.91 39.05 L219.80 39.05 L220.70 39.04 L221.60 39.04 L222.49 39.04 L223.39 39.04 L224.29 39.04 L225.18 39.03 L226.08 39.03 L226.97 39.03 L227.87 39.03 L228.77 39.03 L229.66 39.02 L230.56 39.02 L231.46 39.02 L232.35 39.02 L233.25 39.02 L234.15 39.02 L235.04 39.02 L235.94 39.01 L236.84 39.01 L237.73 39.01 L238.63 39.01 L239.53 39.01 L240.42 39.01 L241.32 39.01 L242.22 39.01 L243.11 39.01 L244.01 39.01 L244.90 39.00 L245.80 39.00 L246.70 39.00 L247.59 39.00 L248.49 39.00 L249.39 39.00 L250.28 39.00 L251.18 39.00 L252.08 39.00 L252.97 39.00 L253.87 39.00 L254.77 39.00 L255.66 39.00 L256.56 39.00 L257.46 38.99 L258.35 38.99 L259.25 38.99 L260.14 38.99 L261.04 38.99 L261.94 38.99 L262.83 38.99 L263.73 38.99 L264.63 38.99 L265.52 38.99 L266.42 38.99 L267.32 38.99 L268.21 38.99 L269.11 38.99 L270.01 38.99 L270.90 38.99 L271.80 38.99 L272.70 38.99 L273.59 38.99 L274.49 38.99 L275.39 38.99 L276.28 38.99 L277.18 38.99 L278.07 38.99 L278.97 38.99 L279.87 38.99 L280.76 38.99 L281.66 38.99 L282.56 38.99 L283.45 38.99 L284.35 38.99 L285.25 38.99 L286.14 38.99 L287.04 38.98 L287.94 38.98 L288.83 38.98 L289.73 38.98 L290.63 38.98 L291.52 38.98 L292.42 38.98 L293.31 38.98 L294.21 38.98 L295.11 38.98 L296.00 38.98 L296.90 38.98 L297.80 38.98 L298.69 38.98 L299.59 38.98 L300.49 38.98 L301.38 38.98 L302.28 38.98 L303.18 38.98 L304.07 38.98 L304.97 38.98 L305.87 38.98 L306.76 38.98 L307.66 38.98 L308.56 38.98 L309.45 38.98 L310.35 38.98 L311.24 38.98 L312.14 38.98 L313.04 38.98 L313.93 38.98 L314.83 38.98 L315.73 38.98 L316.62 38.98 L317.52 38.98 L318.42 38.98 L319.31 38.98 L320.21 38.98 L321.11 38.98 L322.00 38.98 L322.90 38.98 L323.80 38.98 L324.69 38.98 L325.59 38.98 L326.48 38.98 L327.38 38.98 L328.28 38.98 L329.17 38.98 L330.07 38.98 L330.97 38.98 L331.86 38.98 L332.76 38.98 L333.66 38.98 L334.55 38.98 L335.45 38.98 L336.35 38.98 L337.24 38.98 L338.14 38.98 L339.04 38.98 L339.93 38.98 L340.83 38.98 L341.73 38.98 L342.62 38.98 L343.52 38.98 L344.41 38.98 L345.31 38.98 L346.21 38.98 L347.10 38.98 L348.00 38.98 L348.90 38.98 L349.79 38.98 L350.69 38.98 L351.59 38.98 L352.48 38.98 L353.38 38.98 L354.28 38.98 L355.17 38.98 L356.07 38.98 L356.97 38.98 L357.86 38.98 L358.76 38.98 L359.65 38.98 L360.55 38.98 L361.45 38.98 L362.34 38.98 L363.24 38.98 L364.14 38.98 L365.03 38.98 L365.93 38.98 L366.83 38.98 L367.72 38.98 L368.62 38.98 L369.52 38.98 L370.41 38.98 L371.31 38.98 L372.21 38.98 L373.10 38.98 L374.00 38.98" fill="none" stroke="#ff8000" stroke-width="1.9" stroke-linejoin="round"/>
<path d="M16.30 246.00 L16.66 244.64 L17.02 243.17 L17.20 242.39 L17.37 241.60 L17.73 239.93 L18.09 238.18 L18.09 238.16 L18.45 236.34 L18.81 234.44 L18.99 233.43 L19.16 232.46 L19.52 230.43 L19.88 228.34 L19.89 228.30 L20.24 226.20 L20.59 224.02 L20.78 222.86 L20.95 221.80 L21.31 219.54 L21.67 217.26 L21.68 217.19 L22.03 214.95 L22.38 212.62 L22.58 211.37 L22.74 210.27 L23.10 207.91 L23.46 205.54 L23.47 205.45 L23.82 203.17 L24.17 200.79 L24.37 199.49 L24.53 198.40 L24.89 196.02 L25.25 193.65 L25.26 193.53 L25.61 191.28 L25.96 188.92 L26.16 187.62 L26.32 186.57 L26.68 184.23 L27.04 181.91 L27.06 181.77 L27.39 179.60 L27.75 177.31 L27.95 176.02 L28.11 175.04 L28.47 172.78 L28.83 170.55 L28.85 170.40 L29.18 168.34 L29.54 166.15 L29.75 164.90 L29.90 163.98 L30.26 161.84 L30.62 159.72 L30.64 159.55 L30.97 157.63 L31.33 155.56 L31.54 154.36 L31.69 153.52 L32.05 151.50 L32.41 149.51 L32.44 149.34 L32.76 147.55 L33.12 145.61 L33.33 144.48 L33.48 143.71 L33.84 141.82 L34.19 139.97 L34.23 139.79 L34.55 138.14 L34.91 136.34 L35.13 135.27 L35.27 134.57 L35.63 132.83 L35.98 131.11 L36.02 130.93 L36.34 129.42 L36.70 127.75 L36.92 126.75 L37.06 126.12 L37.42 124.51 L37.77 122.92 L37.82 122.74 L38.13 121.36 L38.49 119.83 L38.71 118.89 L38.85 118.33 L39.21 116.84 L39.56 115.39 L39.61 115.20 L39.92 113.96 L40.28 112.55 L40.51 111.67 L40.64 111.17 L40.99 109.81 L41.35 108.48 L41.40 108.29 L41.71 107.17 L42.07 105.88 L42.30 105.06 L42.43 104.61 L42.78 103.37 L43.14 102.15 L43.19 101.97 L43.50 100.95 L43.86 99.78 L44.09 99.02 L44.22 98.62 L44.57 97.49 L44.93 96.37 L44.99 96.20 L45.29 95.28 L45.65 94.20 L45.88 93.50 L46.01 93.15 L46.36 92.12 L46.72 91.10 L46.78 90.93 L47.08 90.10 L47.44 89.13 L47.68 88.48 L47.79 88.17 L48.15 87.22 L48.51 86.30 L48.57 86.14 L48.87 85.39 L49.23 84.50 L49.47 83.91 L49.58 83.63 L49.94 82.77 L50.30 81.93 L50.37 81.78 L50.66 81.10 L51.02 80.30 L51.26 79.74 L51.37 79.50 L51.73 78.72 L52.09 77.96 L52.16 77.81 L52.45 77.21 L52.81 76.47 L53.06 75.96 L53.16 75.75 L53.52 75.04 L53.88 74.34 L53.95 74.20 L54.24 73.66 L54.59 72.99 L54.85 72.53 L54.95 72.34 L55.31 71.69 L55.67 71.06 L55.75 70.93 L56.03 70.44 L56.38 69.84 L56.64 69.41 L56.74 69.24 L57.10 68.66 L57.46 68.08 L57.54 67.96 L57.82 67.52 L58.17 66.97 L58.43 66.57 L58.53 66.43 L58.89 65.90 L59.25 65.38 L59.33 65.26 L59.61 64.87 L59.96 64.37 L60.23 64.00 L60.32 63.88 L60.68 63.40 L61.04 62.92 L61.12 62.81 L61.39 62.46 L61.75 62.01 L62.02 61.67 L62.11 61.56 L62.47 61.12 L62.83 60.70 L62.92 60.59 L63.18 60.28 L63.54 59.86 L63.81 59.56 L63.90 59.46 L64.26 59.06 L64.62 58.68 L64.71 58.57 L64.97 58.29 L65.33 57.92 L65.61 57.64 L65.69 57.55 L66.05 57.19 L66.41 56.84 L66.50 56.75 L66.76 56.50 L67.12 56.16 L67.40 55.90 L67.48 55.82 L67.84 55.50 L68.19 55.18 L68.30 55.09 L68.55 54.86 L68.91 54.56 L69.19 54.32 L69.27 54.26 L69.63 53.96 L69.98 53.67 L70.09 53.59 L70.34 53.38 L70.70 53.11 L70.99 52.89 L71.06 52.83 L71.42 52.56 L71.77 52.30 L71.88 52.22 L72.13 52.04 L72.49 51.79 L72.78 51.59 L72.85 51.54 L73.20 51.30 L73.56 51.06 L73.68 50.99 L73.92 50.83 L74.28 50.60 L74.57 50.41 L74.64 50.37 L74.99 50.15 L75.35 49.93 L75.47 49.87 L75.71 49.72 L76.07 49.51 L76.36 49.34 L76.43 49.31 L76.78 49.11 L77.14 48.91 L77.26 48.85 L77.50 48.72 L77.86 48.53 L78.16 48.38 L78.22 48.35 L78.57 48.17 L78.93 47.99 L79.05 47.93 L79.29 47.81 L79.65 47.64 L79.95 47.50 L80.00 47.47 L80.36 47.31 L80.72 47.15 L80.85 47.09 L81.08 46.99 L81.44 46.83 L81.74 46.70 L81.79 46.68 L82.15 46.53 L82.51 46.39 L82.64 46.33 L82.87 46.24 L83.23 46.10 L83.54 45.98 L83.58 45.96 L83.94 45.83 L84.30 45.70 L84.43 45.65 L84.66 45.57 L85.02 45.44 L85.33 45.33 L85.37 45.31 L85.73 45.19 L86.09 45.07 L86.23 45.03 L86.45 44.95 L86.80 44.84 L87.12 44.74 L87.16 44.72 L87.52 44.61 L87.88 44.50 L88.02 44.46 L88.24 44.40 L88.59 44.29 L88.92 44.20 L88.95 44.19 L89.31 44.09 L89.67 43.99 L89.81 43.95 L90.03 43.89 L90.38 43.80 L90.71 43.71 L90.74 43.70 L91.10 43.61 L91.46 43.52 L91.61 43.49 L91.82 43.43 L92.17 43.35 L92.50 43.27 L92.53 43.26 L92.89 43.18 L93.25 43.10 L93.40 43.06 L93.60 43.02 L93.96 42.94 L94.29 42.87 L94.32 42.86 L94.68 42.79 L95.04 42.71 L95.19 42.68 L95.39 42.64 L95.75 42.57 L96.09 42.51 L96.11 42.50 L96.47 42.43 L96.83 42.37 L96.98 42.34 L97.18 42.30 L97.54 42.24 L97.88 42.18 L97.90 42.17 L98.26 42.11 L98.62 42.05 L98.78 42.02 L98.97 41.99 L99.33 41.93 L99.67 41.88 L99.69 41.88 L100.05 41.82 L100.40 41.76 L100.57 41.74 L100.76 41.71 L101.12 41.66 L101.47 41.61 L101.48 41.61 L101.84 41.55 L102.19 41.51 L102.36 41.48 L102.55 41.46 L102.91 41.41 L103.26 41.36 L103.27 41.36 L103.63 41.32 L103.98 41.27 L104.16 41.25 L104.34 41.23 L104.70 41.18 L105.05 41.14 L105.06 41.14 L105.42 41.10 L105.77 41.06 L105.95 41.04 L106.13 41.02 L106.49 40.98 L106.85 40.94 L106.85 40.94 L107.20 40.90 L107.56 40.86 L107.74 40.84 L107.92 40.83 L108.28 40.79 L108.64 40.76 L108.64 40.76 L108.99 40.72 L109.35 40.69 L109.53 40.67 L109.71 40.65 L110.07 40.62 L110.43 40.59 L110.43 40.59 L110.78 40.56 L111.14 40.53 L111.33 40.51 L111.50 40.50 L111.86 40.47 L112.22 40.44 L112.22 40.44 L112.57 40.41 L112.93 40.38 L113.12 40.37 L113.29 40.36 L113.65 40.33 L114.00 40.30 L114.02 40.30 L114.36 40.28 L114.72 40.25 L114.91 40.24 L115.08 40.23 L115.44 40.20 L115.79 40.18 L115.81 40.18 L116.15 40.16 L116.51 40.13 L116.71 40.12 L116.87 40.11 L117.23 40.09 L117.58 40.07 L117.60 40.07 L117.94 40.05 L118.30 40.03 L118.50 40.02 L118.66 40.01 L119.02 39.99 L119.37 39.97 L119.40 39.97 L119.73 39.95 L120.09 39.93 L120.29 39.92 L120.45 39.91 L120.80 39.89 L121.16 39.88 L121.19 39.87 L121.52 39.86 L121.88 39.84 L122.09 39.83 L122.24 39.82 L122.59 39.81 L122.95 39.79 L122.98 39.79 L123.31 39.78 L123.88 39.75 L124.78 39.72 L125.67 39.68 L126.57 39.65 L127.46 39.61 L128.36 39.58 L129.26 39.56 L130.15 39.53 L131.05 39.50 L131.95 39.48 L132.84 39.45 L133.74 39.43 L134.64 39.41 L135.53 39.39 L136.43 39.37 L137.33 39.35 L138.22 39.33 L139.12 39.32 L140.02 39.30 L140.91 39.28 L141.81 39.27 L142.70 39.26 L143.60 39.24 L144.50 39.23 L145.39 39.22 L146.29 39.21 L147.19 39.20 L148.08 39.19 L148.98 39.18 L149.88 39.17 L150.77 39.16 L151.67 39.15 L152.57 39.14 L153.46 39.13 L154.36 39.13 L155.26 39.12 L156.15 39.11 L157.05 39.11 L157.95 39.10 L158.84 39.09 L159.74 39.09 L160.63 39.08 L161.53 39.08 L162.43 39.07 L163.32 39.07 L164.22 39.07 L165.12 39.06 L166.01 39.06 L166.91 39.05 L167.81 39.05 L168.70 39.05 L169.60 39.04 L170.50 39.04 L171.39 39.04 L172.29 39.04 L173.19 39.03 L174.08 39.03 L174.98 39.03 L175.87 39.03 L176.77 39.02 L177.67 39.02 L178.56 39.02 L179.46 39.02 L180.36 39.02 L181.25 39.01 L182.15 39.01 L183.05 39.01 L183.94 39.01 L184.84 39.01 L185.74 39.01 L186.63 39.01 L187.53 39.00 L188.43 39.00 L189.32 39.00 L190.22 39.00 L191.12 39.00 L192.01 39.00 L192.91 39.00 L193.80 39.00 L194.70 39.00 L195.60 39.00 L196.49 39.00 L197.39 38.99 L198.29 38.99 L199.18 38.99 L200.08 38.99 L200.98 38.99 L201.87 38.99 L202.77 38.99 L203.67 38.99 L204.56 38.99 L205.46 38.99 L206.36 38.99 L207.25 38.99 L208.15 38.99 L209.04 38.99 L209.94 38.99 L210.84 38.99 L211.73 38.99 L212.63 38.99 L213.53 38.99 L214.42 38.99 L215.32 38.99 L216.22 38.99 L217.11 38.99 L218.01 38.99 L218.91 38.99 L219.80 38.98 L220.70 38.98 L221.60 38.98 L222.49 38.98 L223.39 38.98 L224.29 38.98 L225.18 38.98 L226.08 38.98 L226.97 38.98 L227.87 38.98 L228.77 38.98 L229.66 38.98 L230.56 38.98 L231.46 38.98 L232.35 38.98 L233.25 38.98 L234.15 38.98 L235.04 38.98 L235.94 38.98 L236.84 38.98 L237.73 38.98 L238.63 38.98 L239.53 38.98 L240.42 38.98 L241.32 38.98 L242.22 38.98 L243.11 38.98 L244.01 38.98 L244.90 38.98 L245.80 38.98 L246.70 38.98 L247.59 38.98 L248.49 38.98 L249.39 38.98 L250.28 38.98 L251.18 38.98 L252.08 38.98 L252.97 38.98 L253.87 38.98 L254.77 38.98 L255.66 38.98 L256.56 38.98 L257.46 38.98 L258.35 38.98 L259.25 38.98 L260.14 38.98 L261.04 38.98 L261.94 38.98 L262.83 38.98 L263.73 38.98 L264.63 38.98 L265.52 38.98 L266.42 38.98 L267.32 38.98 L268.21 38.98 L269.11 38.98 L270.01 38.98 L270.90 38.98 L271.80 38.98 L272.70 38.98 L273.59 38.98 L274.49 38.98 L275.39 38.98 L276.28 38.98 L277.18 38.98 L278.07 38.98 L278.97 38.98 L279.87 38.98 L280.76 38.98 L281.66 38.98 L282.56 38.98 L283.45 38.98 L284.35 38.98 L285.25 38.98 L286.14 38.98 L287.04 38.98 L287.94 38.98 L288.83 38.98 L289.73 38.98 L290.63 38.98 L291.52 38.98 L292.42 38.98 L293.31 38.98 L294.21 38.98 L295.11 38.98 L296.00 38.98 L296.90 38.98 L297.80 38.98 L298.69 38.98 L299.59 38.98 L300.49 38.98 L301.38 38.98 L302.28 38.98 L303.18 38.98 L304.07 38.98 L304.97 38.98 L305.87 38.98 L306.76 38.98 L307.66 38.98 L308.56 38.98 L309.45 38.98 L310.35 38.98 L311.24 38.98 L312.14 38.98 L313.04 38.98 L313.93 38.98 L314.83 38.98 L315.73 38.98 L316.62 38.98 L317.52 38.98 L318.42 38.98 L319.31 38.98 L320.21 38.98 L321.11 38.98 L322.00 38.98 L322.90 38.98 L323.80 38.98 L324.69 38.98 L325.59 38.98 L326.48 38.98 L327.38 38.98 L328.28 38.98 L329.17 38.98 L330.07 38.98 L330.97 38.98 L331.86 38.98 L332.76 38.98 L333.66 38.98 L334.55 38.98 L335.45 38.98 L336.35 38.98 L337.24 38.98 L338.14 38.98 L339.04 38.98 L339.93 38.98 L340.83 38.98 L341.73 38.98 L342.62 38.98 L343.52 38.98 L344.41 38.98 L345.31 38.98 L346.21 38.98 L347.10 38.98 L348.00 38.98 L348.90 38.98 L349.79 38.98 L350.69 38.98 L351.59 38.98 L352.48 38.98 L353.38 38.98 L354.28 38.98 L355.17 38.98 L356.07 38.98 L356.97 38.98 L357.86 38.98 L358.76 38.98 L359.65 38.98 L360.55 38.98 L361.45 38.98 L362.34 38.98 L363.24 38.98 L364.14 38.98 L365.03 38.98 L365.93 38.98 L366.83 38.98 L367.72 38.98 L368.62 38.98 L369.52 38.98 L370.41 38.98 L371.31 38.98 L372.21 38.98 L373.10 38.98 L374.00 38.98" fill="none" stroke="#ff0000" stroke-width="1.9" stroke-linejoin="round"/>
<path d="M16.30 246.00 L16.59 244.64 L16.87 243.17 L17.16 241.60 L17.20 241.38 L17.45 239.93 L17.73 238.18 L18.02 236.34 L18.09 235.85 L18.30 234.44 L18.59 232.46 L18.88 230.43 L18.99 229.61 L19.16 228.34 L19.45 226.20 L19.74 224.02 L19.89 222.86 L20.02 221.80 L20.31 219.54 L20.59 217.26 L20.78 215.75 L20.88 214.95 L21.17 212.62 L21.45 210.27 L21.68 208.42 L21.74 207.91 L22.03 205.54 L22.31 203.17 L22.58 200.98 L22.60 200.79 L22.89 198.40 L23.17 196.02 L23.46 193.65 L23.47 193.53 L23.74 191.28 L24.03 188.92 L24.32 186.57 L24.37 186.15 L24.60 184.23 L24.89 181.91 L25.18 179.60 L25.26 178.88 L25.46 177.31 L25.75 175.04 L26.03 172.78 L26.16 171.79 L26.32 170.55 L26.61 168.34 L26.89 166.15 L27.06 164.90 L27.18 163.98 L27.47 161.84 L27.75 159.72 L27.95 158.24 L28.04 157.63 L28.33 155.56 L28.61 153.52 L28.85 151.83 L28.90 151.50 L29.18 149.51 L29.47 147.55 L29.75 145.68 L29.76 145.61 L30.04 143.71 L30.33 141.82 L30.62 139.97 L30.64 139.79 L30.90 138.14 L31.19 136.34 L31.47 134.57 L31.54 134.17 L31.76 132.83 L32.05 131.11 L32.33 129.42 L32.44 128.82 L32.62 127.75 L32.91 126.12 L33.19 124.51 L33.33 123.72 L33.48 122.92 L33.77 121.36 L34.05 119.83 L34.23 118.89 L34.34 118.33 L34.62 116.84 L34.91 115.39 L35.13 114.31 L35.20 113.96 L35.48 112.55 L35.77 111.17 L36.02 109.97 L36.06 109.81 L36.34 108.48 L36.63 107.17 L36.91 105.88 L36.92 105.86 L37.20 104.61 L37.49 103.37 L37.77 102.15 L37.82 101.97 L38.06 100.95 L38.35 99.78 L38.63 98.62 L38.71 98.30 L38.92 97.49 L39.21 96.37 L39.49 95.28 L39.61 94.84 L39.78 94.20 L40.06 93.15 L40.35 92.12 L40.51 91.57 L40.64 91.10 L40.92 90.10 L41.21 89.13 L41.40 88.48 L41.50 88.17 L41.78 87.22 L42.07 86.30 L42.30 85.57 L42.35 85.39 L42.64 84.50 L42.93 83.63 L43.19 82.83 L43.21 82.77 L43.50 81.93 L43.79 81.10 L44.07 80.30 L44.09 80.24 L44.36 79.50 L44.65 78.72 L44.93 77.96 L44.99 77.81 L45.22 77.21 L45.50 76.47 L45.79 75.75 L45.88 75.51 L46.08 75.04 L46.36 74.34 L46.65 73.66 L46.78 73.35 L46.94 72.99 L47.22 72.34 L47.51 71.69 L47.68 71.32 L47.79 71.06 L48.08 70.44 L48.37 69.84 L48.57 69.41 L48.65 69.24 L48.94 68.66 L49.23 68.08 L49.47 67.60 L49.51 67.52 L49.80 66.97 L50.09 66.43 L50.37 65.91 L50.37 65.90 L50.66 65.38 L50.94 64.87 L51.23 64.37 L51.26 64.31 L51.52 63.88 L51.80 63.40 L52.09 62.92 L52.16 62.81 L52.38 62.46 L52.66 62.01 L52.95 61.56 L53.06 61.40 L53.23 61.12 L53.52 60.70 L53.81 60.28 L53.95 60.07 L54.09 59.86 L54.38 59.46 L54.67 59.06 L54.85 58.81 L54.95 58.68 L55.24 58.29 L55.53 57.92 L55.75 57.64 L55.81 57.55 L56.10 57.19 L56.38 56.84 L56.64 56.53 L56.67 56.50 L56.96 56.16 L57.24 55.82 L57.53 55.50 L57.54 55.49 L57.82 55.18 L58.10 54.86 L58.39 54.56 L58.43 54.51 L58.67 54.26 L58.96 53.96 L59.25 53.67 L59.33 53.59 L59.53 53.38 L59.82 53.11 L60.11 52.83 L60.23 52.72 L60.39 52.56 L60.68 52.30 L60.97 52.04 L61.12 51.90 L61.25 51.79 L61.54 51.54 L61.82 51.30 L62.02 51.13 L62.11 51.06 L62.40 50.83 L62.68 50.60 L62.92 50.41 L62.97 50.37 L63.26 50.15 L63.54 49.93 L63.81 49.73 L63.83 49.72 L64.11 49.51 L64.40 49.31 L64.69 49.11 L64.71 49.09 L64.97 48.91 L65.26 48.72 L65.55 48.53 L65.61 48.49 L65.83 48.35 L66.12 48.17 L66.41 47.99 L66.50 47.93 L66.69 47.81 L66.98 47.64 L67.26 47.47 L67.40 47.40 L67.55 47.31 L67.84 47.15 L68.12 46.99 L68.30 46.90 L68.41 46.83 L68.70 46.68 L68.98 46.53 L69.19 46.43 L69.27 46.39 L69.55 46.24 L69.84 46.10 L70.09 45.98 L70.13 45.96 L70.41 45.83 L70.70 45.70 L70.99 45.57 L70.99 45.57 L71.27 45.44 L71.56 45.31 L71.84 45.19 L71.88 45.18 L72.13 45.07 L72.42 44.95 L72.70 44.84 L72.78 44.81 L72.99 44.72 L73.28 44.61 L73.56 44.50 L73.68 44.46 L73.85 44.40 L74.14 44.29 L74.42 44.19 L74.57 44.14 L74.71 44.09 L74.99 43.99 L75.28 43.89 L75.47 43.83 L75.57 43.80 L75.85 43.70 L76.14 43.61 L76.36 43.54 L76.43 43.52 L76.71 43.43 L77.00 43.35 L77.26 43.27 L77.28 43.26 L77.57 43.18 L77.86 43.10 L78.14 43.02 L78.16 43.01 L78.43 42.94 L78.72 42.86 L79.00 42.79 L79.05 42.77 L79.29 42.71 L79.58 42.64 L79.86 42.57 L79.95 42.55 L80.15 42.50 L80.43 42.43 L80.72 42.37 L80.85 42.34 L81.01 42.30 L81.29 42.24 L81.58 42.17 L81.74 42.14 L81.87 42.11 L82.15 42.05 L82.44 41.99 L82.64 41.95 L82.72 41.93 L83.01 41.88 L83.30 41.82 L83.54 41.77 L83.58 41.76 L83.87 41.71 L84.16 41.66 L84.43 41.61 L84.44 41.61 L84.73 41.55 L85.02 41.51 L85.30 41.46 L85.33 41.45 L85.59 41.41 L85.87 41.36 L86.16 41.32 L86.23 41.30 L86.45 41.27 L86.73 41.23 L87.02 41.18 L87.12 41.17 L87.31 41.14 L87.59 41.10 L87.88 41.06 L88.02 41.04 L88.16 41.02 L88.45 40.98 L88.74 40.94 L88.92 40.91 L89.02 40.90 L89.31 40.86 L89.60 40.83 L89.81 40.80 L89.88 40.79 L90.17 40.76 L90.46 40.72 L90.71 40.69 L90.74 40.69 L91.03 40.65 L91.31 40.62 L91.60 40.59 L91.61 40.59 L91.89 40.56 L92.17 40.53 L92.46 40.50 L92.50 40.49 L92.75 40.47 L93.03 40.44 L93.32 40.41 L93.40 40.40 L93.60 40.38 L93.89 40.36 L94.18 40.33 L94.29 40.32 L94.46 40.30 L94.75 40.28 L95.04 40.25 L95.19 40.24 L95.32 40.23 L95.61 40.20 L95.90 40.18 L96.09 40.17 L96.18 40.16 L96.47 40.13 L96.75 40.11 L96.98 40.09 L97.04 40.09 L97.33 40.07 L97.61 40.05 L97.88 40.03 L97.90 40.03 L98.19 40.01 L98.47 39.99 L98.76 39.97 L98.78 39.97 L99.04 39.95 L99.33 39.93 L99.62 39.91 L99.67 39.91 L99.90 39.89 L100.19 39.88 L100.48 39.86 L100.57 39.85 L100.76 39.84 L101.05 39.82 L101.34 39.81 L101.47 39.80 L101.62 39.79 L101.91 39.78 L102.36 39.75 L103.26 39.71 L104.16 39.66 L105.05 39.62 L105.95 39.58 L106.85 39.55 L107.74 39.51 L108.64 39.48 L109.53 39.45 L110.43 39.43 L111.33 39.40 L112.22 39.37 L113.12 39.35 L114.02 39.33 L114.91 39.31 L115.81 39.29 L116.71 39.27 L117.60 39.25 L118.50 39.24 L119.40 39.22 L120.29 39.21 L121.19 39.19 L122.09 39.18 L122.98 39.17 L123.88 39.16 L124.78 39.15 L125.67 39.14 L126.57 39.13 L127.46 39.12 L128.36 39.11 L129.26 39.10 L130.15 39.10 L131.05 39.09 L131.95 39.08 L132.84 39.08 L133.74 39.07 L134.64 39.07 L135.53 39.06 L136.43 39.06 L137.33 39.05 L138.22 39.05 L139.12 39.04 L140.02 39.04 L140.91 39.04 L141.81 39.03 L142.70 39.03 L143.60 39.03 L144.50 39.02 L145.39 39.02 L146.29 39.02 L147.19 39.02 L148.08 39.01 L148.98 39.01 L149.88 39.01 L150.77 39.01 L151.67 39.01 L152.57 39.01 L153.46 39.00 L154.36 39.00 L155.26 39.00 L156.15 39.00 L157.05 39.00 L157.95 39.00 L158.84 39.00 L159.74 39.00 L160.63 39.00 L161.53 38.99 L162.43 38.99 L163.32 38.99 L164.22 38.99 L165.12 38.99 L166.01 38.99 L166.91 38.99 L167.81 38.99 L168.70 38.99 L169.60 38.99 L170.50 38.99 L171.39 38.99 L172.29 38.99 L173.19 38.99 L174.08 38.99 L174.98 38.99 L175.87 38.99 L176.77 38.99 L177.67 38.99 L178.56 38.99 L179.46 38.98 L180.36 38.98 L181.25 38.98 L182.15 38.98 L183.05 38.98 L183.94 38.98 L184.84 38.98 L185.74 38.98 L186.63 38.98 L187.53 38.98 L188.43 38.98 L189.32 38.98 L190.22 38.98 L191.12 38.98 L192.01 38.98 L192.91 38.98 L193.80 38.98 L194.70 38.98 L195.60 38.98 L196.49 38.98 L197.39 38.98 L198.29 38.98 L199.18 38.98 L200.08 38.98 L200.98 38.98 L201.87 38.98 L202.77 38.98 L203.67 38.98 L204.56 38.98 L205.46 38.98 L206.36 38.98 L207.25 38.98 L208.15 38.98 L209.04 38.98 L209.94 38.98 L210.84 38.98 L211.73 38.98 L212.63 38.98 L213.53 38.98 L214.42 38.98 L215.32 38.98 L216.22 38.98 L217.11 38.98 L218.01 38.98 L218.91 38.98 L219.80 38.98 L220.70 38.98 L221.60 38.98 L222.49 38.98 L223.39 38.98 L224.29 38.98 L225.18 38.98 L226.08 38.98 L226.97 38.98 L227.87 38.98 L228.77 38.98 L229.66 38.98 L230.56 38.98 L231.46 38.98 L232.35 38.98 L233.25 38.98 L234.15 38.98 L235.04 38.98 L235.94 38.98 L236.84 38.98 L237.73 38.98 L238.63 38.98 L239.53 38.98 L240.42 38.98 L241.32 38.98 L242.22 38.98 L243.11 38.98 L244.01 38.98 L244.90 38.98 L245.80 38.98 L246.70 38.98 L247.59 38.98 L248.49 38.98 L249.39 38.98 L250.28 38.98 L251.18 38.98 L252.08 38.98 L252.97 38.98 L253.87 38.98 L254.77 38.98 L255.66 38.98 L256.56 38.98 L257.46 38.98 L258.35 38.98 L259.25 38.98 L260.14 38.98 L261.04 38.98 L261.94 38.98 L262.83 38.98 L263.73 38.98 L264.63 38.98 L265.52 38.98 L266.42 38.98 L267.32 38.98 L268.21 38.98 L269.11 38.98 L270.01 38.98 L270.90 38.98 L271.80 38.98 L272.70 38.98 L273.59 38.98 L274.49 38.98 L275.39 38.98 L276.28 38.98 L277.18 38.98 L278.07 38.98 L278.97 38.98 L279.87 38.98 L280.76 38.98 L281.66 38.98 L282.56 38.98 L283.45 38.98 L284.35 38.98 L285.25 38.98 L286.14 38.98 L287.04 38.98 L287.94 38.98 L288.83 38.98 L289.73 38.98 L290.63 38.98 L291.52 38.98 L292.42 38.98 L293.31 38.98 L294.21 38.98 L295.11 38.98 L296.00 38.98 L296.90 38.98 L297.80 38.98 L298.69 38.98 L299.59 38.98 L300.49 38.98 L301.38 38.98 L302.28 38.98 L303.18 38.98 L304.07 38.98 L304.97 38.98 L305.87 38.98 L306.76 38.98 L307.66 38.98 L308.56 38.98 L309.45 38.98 L310.35 38.98 L311.24 38.98 L312.14 38.98 L313.04 38.98 L313.93 38.98 L314.83 38.98 L315.73 38.98 L316.62 38.98 L317.52 38.98 L318.42 38.98 L319.31 38.98 L320.21 38.98 L321.11 38.98 L322.00 38.98 L322.90 38.98 L323.80 38.98 L324.69 38.98 L325.59 38.98 L326.48 38.98 L327.38 38.98 L328.28 38.98 L329.17 38.98 L330.07 38.98 L330.97 38.98 L331.86 38.98 L332.76 38.98 L333.66 38.98 L334.55 38.98 L335.45 38.98 L336.35 38.98 L337.24 38.98 L338.14 38.98 L339.04 38.98 L339.93 38.98 L340.83 38.98 L341.73 38.98 L342.62 38.98 L343.52 38.98 L344.41 38.98 L345.31 38.98 L346.21 38.98 L347.10 38.98 L348.00 38.98 L348.90 38.98 L349.79 38.98 L350.69 38.98 L351.59 38.98 L352.48 38.98 L353.38 38.98 L354.28 38.98 L355.17 38.98 L356.07 38.98 L356.97 38.98 L357.86 38.98 L358.76 38.98 L359.65 38.98 L360.55 38.98 L361.45 38.98 L362.34 38.98 L363.24 38.98 L364.14 38.98 L365.03 38.98 L365.93 38.98 L366.83 38.98 L367.72 38.98 L368.62 38.98 L369.52 38.98 L370.41 38.98 L371.31 38.98 L372.21 38.98 L373.10 38.98 L374.00 38.98" fill="none" stroke="#808080" stroke-width="1.9" stroke-linejoin="round"/>
<line x1="15.25" y1="38.8" x2="373.9" y2="38.8" stroke="#000" stroke-width="2" stroke-dasharray="6.0 2.797"/>
<g font-family="Liberation Sans, sans-serif" font-size="10" fill="#000">
<text x="87.84" y="256.8" text-anchor="middle">5</text>
<text x="159.18" y="256.8" text-anchor="middle">10</text>
<text x="230.52" y="256.8" text-anchor="middle">15</text>
<text x="301.86" y="256.8" text-anchor="middle">20</text>
<text x="373.20" y="256.8" text-anchor="middle">25</text>
<text x="13.1" y="198.26" text-anchor="end">2</text>
<text x="13.1" y="147.52" text-anchor="end">4</text>
<text x="13.1" y="96.78" text-anchor="end">6</text>
<text x="13.1" y="46.04" text-anchor="end">8</text>
</g>
<g font-family="Liberation Serif, serif" fill="#000">
<text x="1.5" y="15" font-size="14.6" font-style="italic">S</text>
<text x="9.7" y="16.6" font-size="9.8" font-style="italic">A</text>
<text x="16.7" y="15.2" font-size="15">(</text>
<text x="20.9" y="15" font-size="15" font-style="italic">t</text>
<text x="26.0" y="15.2" font-size="15">)</text>
<text x="390.0" y="249.4" font-size="15" font-style="italic">t</text>
</g>
<line x1="413" y1="69.5" x2="457.8" y2="69.5" stroke="#0000ff" stroke-width="1.85"/>
<text x="465.6" y="73.35" font-family="Liberation Sans, sans-serif" font-size="14.2" fill="#000"><tspan font-style="italic">ε</tspan>=0.2</text>
<line x1="413" y1="93.05" x2="457.8" y2="93.05" stroke="#00ff00" stroke-width="1.85"/>
<text x="465.6" y="96.90" font-family="Liberation Sans, sans-serif" font-size="14.2" fill="#000"><tspan font-style="italic">ε</tspan>=0.4</text>
<line x1="413" y1="116.9" x2="457.8" y2="116.9" stroke="#ff8000" stroke-width="1.85"/>
<text x="465.6" y="120.75" font-family="Liberation Sans, sans-serif" font-size="14.2" fill="#000"><tspan font-style="italic">ε</tspan>=0.6</text>
<line x1="413" y1="140.7" x2="457.8" y2="140.7" stroke="#ff0000" stroke-width="1.85"/>
<text x="465.6" y="144.55" font-family="Liberation Sans, sans-serif" font-size="14.2" fill="#000"><tspan font-style="italic">ε</tspan>=0.8</text>
<line x1="413" y1="164.3" x2="457.8" y2="164.3" stroke="#808080" stroke-width="1.85"/>
<text x="465.6" y="168.15" font-family="Liberation Sans, sans-serif" font-size="14.2" fill="#000"><tspan font-style="italic">ε</tspan>=1.0</text>
<line x1="413.15" y1="188" x2="455.05" y2="188" stroke="#000" stroke-width="2" stroke-dasharray="6.4 2.475"/>
<text x="465.3" y="191.6" font-family="Liberation Sans, sans-serif" font-size="14.25" fill="#000">Equilibrium</text>
</svg>
</body></html>
